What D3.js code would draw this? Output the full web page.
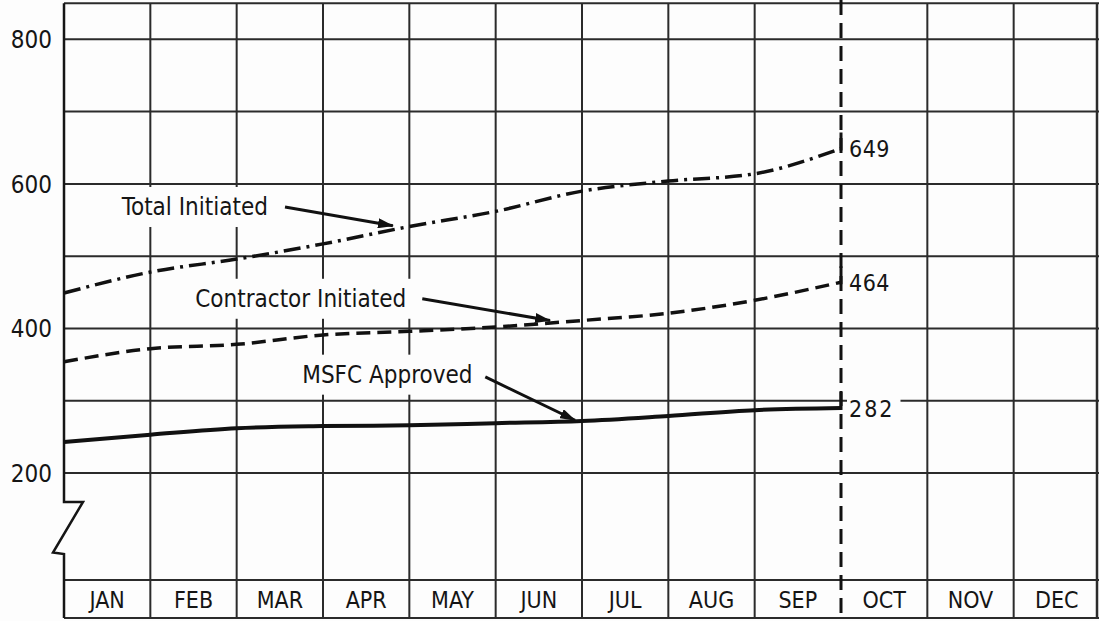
<!DOCTYPE html>
<html>
<head>
<meta charset="utf-8">
<script src="https://cdn.jsdelivr.net/npm/d3@7"></script>
<style>
    html, body { margin: 0; padding: 0; background: #fdfdfd; }
    svg { display: block; }
    text { font-family: "DejaVu Sans Condensed", "DejaVu Sans", sans-serif; font-stretch: condensed; fill: #151515; }
</style>
</head>
<body>
<svg id="chart" width="1099" height="621"></svg>
<script>
// Month cells in the bottom band
const months = ["JAN", "FEB", "MAR", "APR", "MAY", "JUN", "JUL", "AUG", "SEP", "OCT", "NOV", "DEC"];

// Labelled values on the left axis
const yTickLabels = [200, 400, 600, 800];

// Horizontal grid rules
const gridValues = [200, 300, 400, 500, 600, 700, 800];

// Cumulative counts, start of Jan then end of each month up to Sep
const totalInitiated = [449, 478, 496, 517, 541, 562, 590, 604, 614, 649];
const contractorInitiated = [354, 372, 378, 391, 396, 402, 411, 421, 439, 464];
const msfcApproved = [243, 253, 262, 265, 266, 269, 272, 279, 287, 290];

// Figures printed at the end of each series
const endLabels = ["649", "464", "282"];

// Series names
const seriesNames = ["Total Initiated", "Contractor Initiated", "MSFC Approved"];


/**
 * Cumulative change chart
 *
 * @param element
 * @constructor
 */
function ChangeChart(element) {
    // Svg element in the document
    this.element = element;

    // Chart svg
    this.svg = null;

    // Scales
    this.x = null;
    this.y = null;


    /**
     * Initializes the chart
     */
    this.init = function () {
        this.element.innerHTML = "";

        this.setup();
        this.drawGrid();
        this.drawLabels();
        this.drawSeries();
    };


    /**
     * Setup the chart with its basic components
     */
    this.setup = function () {
        let me = this;

        me.svg = d3.select(me.element);

        me.x = d3.scaleLinear().domain([0, 12]).range([64, 1100]);
        me.y = d3.scaleLinear().domain([52, 850]).range([580, 3.2]);

        // Bottom of the month band
        me.bandBottom = 618;

        // Arrow head for the callouts
        me.svg.append("defs").append("marker")
            .attr("id", "arrow")
            .attr("markerUnits", "userSpaceOnUse")
            .attr("markerWidth", 16)
            .attr("markerHeight", 10)
            .attr("refX", 15)
            .attr("refY", 5)
            .attr("orient", "auto")
            .append("path")
            .attr("d", "M0,0 L16,5 L0,10 Z")
            .attr("fill", "#111");

        me.g = me.svg.append("g");
    };


    /**
     * Grid rules, axis with break and month band
     */
    this.drawGrid = function () {
        let me = this;
        let x = me.x, y = me.y;
        let grid = me.g.append("g")
            .attr("stroke", "#2b2b2b")
            .attr("stroke-width", 2)
            .attr("fill", "none");

        // Horizontal rules plus the top border
        grid.selectAll(".h")
            .data(gridValues.concat([850]))
            .join("line")
            .attr("x1", x(0))
            .attr("x2", x(12))
            .attr("y1", d => y(d))
            .attr("y2", d => y(d));

        // Month band rules
        grid.selectAll(".band")
            .data([y(52), me.bandBottom])
            .join("line")
            .attr("x1", x(0))
            .attr("x2", x(12))
            .attr("y1", d => d)
            .attr("y2", d => d);

        // Vertical month rules, end of Sep is drawn dashed later
        grid.selectAll(".v")
            .data(d3.range(1, 12).filter(d => d !== 9))
            .join("line")
            .attr("x1", d => x(d))
            .attr("x2", d => x(d))
            .attr("y1", y(850))
            .attr("y2", me.bandBottom);

        // Right border
        grid.append("line")
            .attr("x1", x(12) - 3)
            .attr("x2", x(12) - 3)
            .attr("y1", y(850))
            .attr("y2", me.bandBottom)
            .attr("stroke-width", 2.5);

        // Left axis with the break symbol
        let x0 = x(0);
        let path = d3.path();
        path.moveTo(x0, y(850));
        path.lineTo(x0, y(160));
        path.lineTo(x0 + 19, y(160));
        path.lineTo(x0 - 11, y(90));
        path.lineTo(x0, y(88));
        path.lineTo(x0, me.bandBottom);
        grid.append("path")
            .attr("d", path.toString())
            .attr("stroke", "#151515")
            .attr("stroke-width", 2.5)
            .attr("stroke-linejoin", "miter");

        // Tick labels
        me.g.selectAll(".ytick")
            .data(yTickLabels)
            .join("text")
            .attr("x", x0 - 12)
            .attr("y", d => y(d) + 9)
            .attr("text-anchor", "end")
            .attr("font-size", 24)
            .text(d => d);

        // Month labels
        me.g.selectAll(".month")
            .data(months)
            .join("text")
            .attr("x", (d, i) => x(i + 0.5))
            .attr("y", (y(52) + me.bandBottom) / 2 + 9)
            .attr("text-anchor", "middle")
            .attr("font-size", 23)
            .text(d => d);
    };


    /**
     * Callout labels with white boxes that cut the grid
     */
    this.drawLabels = function () {
        let me = this;
        let x = me.x, y = me.y;

        // Callout text anchor and arrow, in months / counts
        let callouts = [
            {name: seriesNames[0], at: [0.67, 557], from: [2.56, 568], to: [3.81, 542]},
            {name: seriesNames[1], at: [1.52, 430], from: [4.15, 441], to: [5.63, 411]},
            {name: seriesNames[2], at: [2.76, 325], from: [4.88, 333], to: [5.92, 273]}
        ];

        me.calloutLayer = me.g.append("g");
        me.arrowLayer = me.g.append("g");

        callouts.forEach(function (c) {
            let box = me.calloutLayer.append("rect").attr("fill", "#fdfdfd");
            let t = me.calloutLayer.append("text")
                .attr("x", x(c.at[0]))
                .attr("y", y(c.at[1]))
                .attr("font-size", 24)
                .text(c.name);
            let b = t.node().getBBox();
            box.attr("x", b.x - 6).attr("y", b.y - 6)
                .attr("width", b.width + 12).attr("height", b.height + 12);

            me.arrowLayer.append("line")
                .attr("x1", x(c.from[0]))
                .attr("y1", y(c.from[1]))
                .attr("x2", x(c.to[0]))
                .attr("y2", y(c.to[1]))
                .attr("stroke", "#111")
                .attr("stroke-width", 3)
                .attr("marker-end", "url(#arrow)");
        });
    };


    /**
     * Series lines, the end of Sep marker and the end figures
     */
    this.drawSeries = function () {
        let me = this;
        let x = me.x, y = me.y;
        let series = [totalInitiated, contractorInitiated, msfcApproved];
        let dashes = ["17,6,3,6", "14,7", null];

        // End figures with their boxes
        series.forEach(function (values, k) {
            let last = values[values.length - 1];
            let box = me.g.append("rect").attr("fill", "#fdfdfd");
            let t = me.g.append("text")
                .attr("x", x(9) + 8)
                .attr("y", y(last) + 9)
                .attr("font-size", 23)
                .attr("letter-spacing", k === 2 ? 2 : 0.5)
                .text(endLabels[k]);
            let b = t.node().getBBox();
            box.attr("x", b.x - 2).attr("y", b.y - 3)
                .attr("width", b.width + 8).attr("height", b.height + 6);
        });

        // Dashed rule at the end of September
        me.g.append("line")
            .attr("x1", x(9))
            .attr("x2", x(9))
            .attr("y1", 0)
            .attr("y2", me.bandBottom + 3)
            .attr("stroke", "#111")
            .attr("stroke-width", 3)
            .attr("stroke-dasharray", "15,8");

        let line = d3.line()
            .x((d, i) => x(i))
            .y(d => y(d))
            .curve(d3.curveMonotoneX);

        series.forEach(function (values, k) {
            me.g.append("path")
                .datum(values)
                .attr("d", line)
                .attr("fill", "none")
                .attr("stroke", "#111")
                .attr("stroke-width", k === 2 ? 4 : 3.5)
                .attr("stroke-dasharray", dashes[k]);

            let last = values[values.length - 1];

            // Small end ticks on the September rule
            me.g.append("line")
                .attr("x1", x(9))
                .attr("x2", x(9))
                .attr("y1", y(last) - 16)
                .attr("y2", y(last) + 2)
                .attr("stroke", "#111")
                .attr("stroke-width", 3);
        });
    };


    // Init the chart
    this.init();
}

new ChangeChart(document.getElementById("chart"));
</script>
</body>
</html>
